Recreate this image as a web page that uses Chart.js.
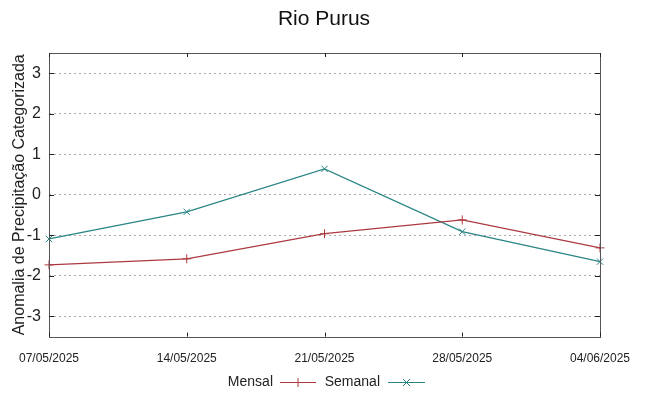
<!DOCTYPE html>
<html>
<head>
<meta charset="utf-8">
<script src="https://cdn.jsdelivr.net/npm/chart.js@4"></script>
<style>
  html, body { margin: 0; padding: 0; background: #fff; }
  #wrap { width: 648px; height: 396px; }
</style>
</head>
<body>
<div id="wrap"><canvas id="c" width="648" height="396"></canvas></div>
<script>
const labels = ['07/05/2025', '14/05/2025', '21/05/2025', '28/05/2025', '04/06/2025']
const mensal = [-1.73, -1.58, -0.96, -0.62, -1.31]
const semanal = [-1.09, -0.42, 0.64, -0.91, -1.65]
const yTicks = [-3, -2, -1, 0, 1, 2, 3]

const FONT = "'Liberation Sans', Arial, sans-serif"
const RED = '#ad3a41'
const TEAL = '#2a8585'

// title, frame, inward ticks and legend drawn gnuplot-style
const framePlugin = {
  id: 'frame',
  afterDraw(chart) {
    const { ctx, chartArea: a, scales } = chart
    ctx.save()

    ctx.font = '21px ' + FONT
    ctx.fillStyle = '#111'
    ctx.textAlign = 'center'
    ctx.textBaseline = 'middle'
    ctx.fillText('Rio Purus', chart.width / 2, 19)

    ctx.strokeStyle = '#555'
    ctx.lineWidth = 1
    ctx.strokeRect(Math.round(a.left) + 0.5, Math.round(a.top) + 0.5,
      Math.round(a.right - a.left), Math.round(a.bottom - a.top))
    ctx.beginPath()
    yTicks.forEach(v => {
      const y = Math.round(scales.y.getPixelForValue(v)) + 0.5
      ctx.moveTo(a.left, y); ctx.lineTo(a.left + 5, y)
      ctx.moveTo(a.right, y); ctx.lineTo(a.right - 5, y)
    })
    labels.forEach((l, i) => {
      const x = Math.round(scales.x.getPixelForValue(i)) + 0.5
      ctx.moveTo(x, a.bottom); ctx.lineTo(x, a.bottom - 4)
      ctx.moveTo(x, a.top); ctx.lineTo(x, a.top + 4)
    })
    ctx.strokeStyle = '#222'
    ctx.stroke()

    // legend: text then sample line with marker
    const ly = 382
    ctx.font = '14px ' + FONT
    ctx.textBaseline = 'middle'
    const items = [
      { text: 'Mensal', textRight: 273, x0: 280, x1: 316, color: RED, mark: '+' },
      { text: 'Semanal', textRight: 380, x0: 388, x1: 425, color: TEAL, mark: 'x' }
    ]
    items.forEach(it => {
      ctx.textAlign = 'right'
      ctx.fillStyle = '#222'
      ctx.fillText(it.text, it.textRight, ly)
      ctx.strokeStyle = it.color
      ctx.lineWidth = 1
      ctx.beginPath()
      ctx.moveTo(it.x0, ly + 0.5); ctx.lineTo(it.x1, ly + 0.5)
      const mx = (it.x0 + it.x1) / 2
      if (it.mark === '+') {
        ctx.moveTo(mx, ly - 4); ctx.lineTo(mx, ly + 5)
      } else {
        ctx.moveTo(mx - 3.5, ly - 3); ctx.lineTo(mx + 3.5, ly + 4)
        ctx.moveTo(mx + 3.5, ly - 3); ctx.lineTo(mx - 3.5, ly + 4)
      }
      ctx.stroke()
    })
    ctx.restore()
  }
}

new Chart(document.getElementById('c'), {
  type: 'line',
  data: {
    labels,
    datasets: [
      {
        label: 'Mensal',
        data: mensal,
        borderColor: RED,
        borderWidth: 1.2,
        pointStyle: 'cross',
        pointRadius: 4.5,
        pointBorderColor: RED,
        pointBorderWidth: 1,
        fill: false,
        tension: 0
      },
      {
        label: 'Semanal',
        data: semanal,
        borderColor: TEAL,
        borderWidth: 1.2,
        pointStyle: 'crossRot',
        pointRadius: 4.5,
        pointBorderColor: TEAL,
        pointBorderWidth: 1,
        fill: false,
        tension: 0
      }
    ]
  },
  options: {
    responsive: false,
    animation: false,
    layout: { padding: { left: 0, right: 48, top: 53, bottom: 15 } },
    plugins: {
      legend: { display: false },
      tooltip: { enabled: false },
      title: { display: false }
    },
    scales: {
      x: {
        offset: false,
        grid: { display: false, drawTicks: false },
        border: { display: false },
        ticks: {
          color: '#222',
          font: { size: 12, family: FONT },
          maxRotation: 0,
          autoSkip: false,
          padding: 15
        }
      },
      y: {
        min: -3.5,
        max: 3.5,
        afterBuildTicks: s => { s.ticks = yTicks.map(v => ({ value: v })) },
        afterFit: s => { s.width = 49 },
        grid: {
          color: '#aaa',
          lineWidth: 1,
          drawTicks: false
        },
        border: { display: false, dash: [2, 3] },
        ticks: {
          color: '#222',
          font: { size: 16, family: FONT },
          padding: 8
        },
        title: {
          display: true,
          text: 'Anomalia de Precipitação Categorizada',
          color: '#222',
          font: { size: 16, family: FONT },
          padding: { top: 10, bottom: 0 }
        }
      }
    }
  },
  plugins: [framePlugin]
})
</script>
</body>
</html>
